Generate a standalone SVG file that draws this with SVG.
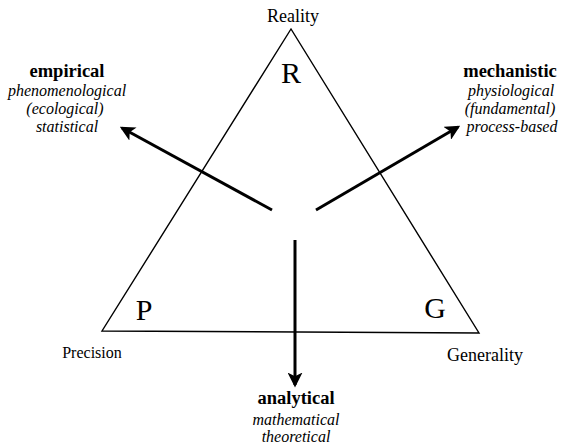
<svg xmlns="http://www.w3.org/2000/svg" width="562" height="447" viewBox="0 0 562 447">
<defs>
<style>
text{font-family:'Liberation Serif','DejaVu Serif',serif;fill:#000;text-anchor:middle}
.b{font-weight:bold;font-size:18.5px}
.i{font-style:italic;font-size:16px}
.v{font-size:18px}
.big{font-size:30px}
.arr{stroke:#000;stroke-width:3;fill:none}
</style>
<marker id="ah" viewBox="0 0 12 12" refX="10" refY="6" markerWidth="5" markerHeight="5" orient="auto" markerUnits="strokeWidth">
<path d="M0,0 L12,6 L0,12 L3,6 Z" fill="#000"/>
</marker>
</defs>
<g id="triangle" font-family="Liberation Serif, serif">
<polygon points="291,29 102,331 479,333" fill="none" stroke="#000" stroke-width="1.4"/>
<text class="v" x="293" y="22">Reality</text>
<text class="big" x="291" y="83">R</text>
<text class="big" x="144" y="320">P</text>
<text class="big" x="435" y="318">G</text>
<text class="v" x="92" y="358" style="font-size:16px">Precision</text>
<text class="v" x="485" y="361">Generality</text>
</g>
<g id="connectors">
<line class="arr" x1="272" y1="210" x2="122" y2="128" marker-end="url(#ah)"/>
<line class="arr" x1="316" y1="210" x2="458" y2="127" marker-end="url(#ah)"/>
<line class="arr" x1="295" y1="240" x2="295" y2="385" marker-end="url(#ah)"/>
</g>
<g id="empirical" font-family="Liberation Serif, serif">
<text class="b" x="67" y="77">empirical</text>
<text class="i" x="67" y="96">phenomenological</text>
<text class="i" x="65" y="114">(ecological)</text>
<text class="i" x="67" y="132">statistical</text>
</g>
<g id="mechanistic" font-family="Liberation Serif, serif">
<text class="b" x="510" y="77">mechanistic</text>
<text class="i" x="511" y="96">physiological</text>
<text class="i" x="510" y="114">(fundamental)</text>
<text class="i" x="512" y="132">process-based</text>
</g>
<g id="analytical" font-family="Liberation Serif, serif">
<text class="b" x="296" y="404">analytical</text>
<text class="i" x="296" y="425">mathematical</text>
<text class="i" x="296" y="442">theoretical</text>
</g>
</svg>
